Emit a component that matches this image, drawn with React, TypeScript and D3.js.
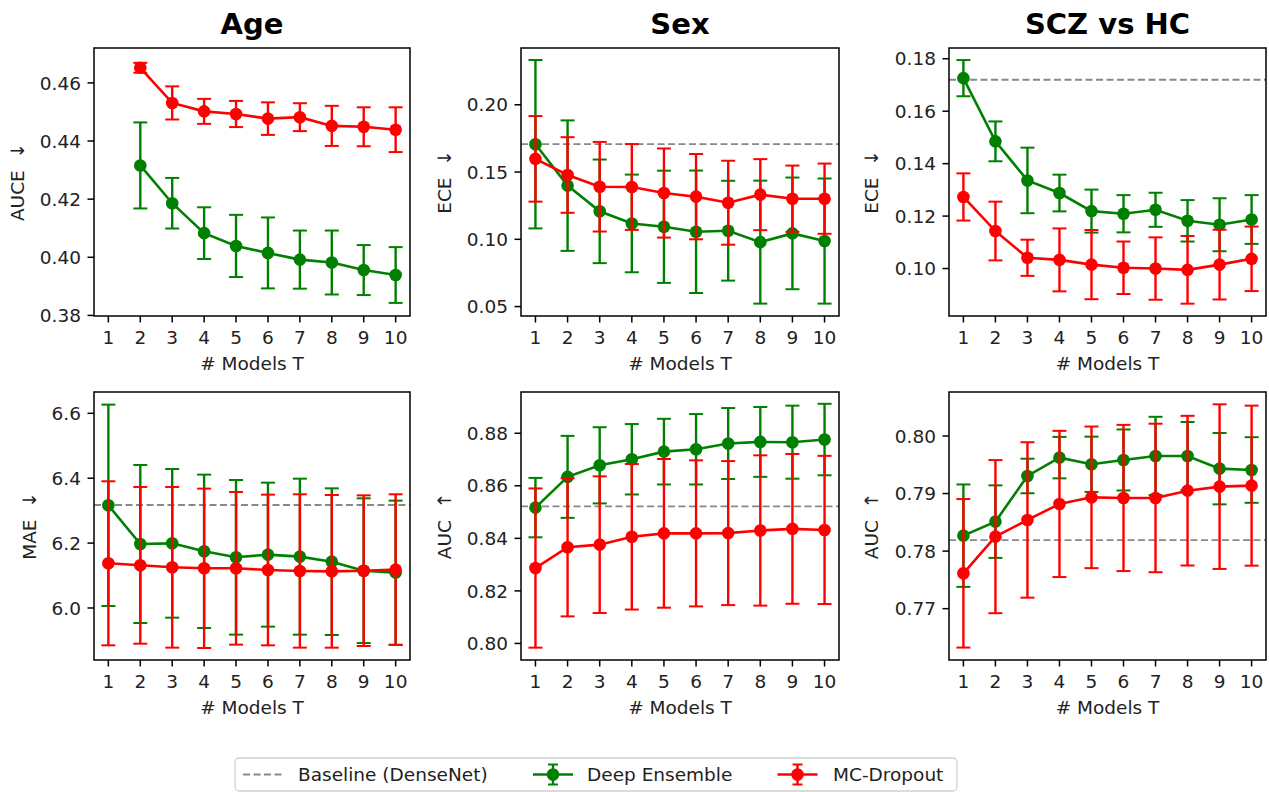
import * as d3 from "d3";

// number of models T
const models = [1, 2, 3, 4, 5, 6, 7, 8, 9, 10];
const xTicks = models;

// Age - AUCE (no T=1 value)
const ageAuceDE = [null, 0.4316, 0.4186, 0.4083, 0.4039, 0.4015, 0.3992, 0.3982, 0.3956, 0.3939];
const ageAuceDEStd = [null, 0.0148, 0.0087, 0.0089, 0.0107, 0.0122, 0.0100, 0.0110, 0.0086, 0.0096];
const ageAuceMC = [null, 0.4652, 0.4531, 0.4502, 0.4493, 0.4477, 0.4482, 0.4452, 0.4449, 0.4439];
const ageAuceMCStd = [null, 0.0017, 0.0057, 0.0043, 0.0045, 0.0056, 0.0048, 0.0069, 0.0067, 0.0077];

// Sex - ECE
const sexEceDE = [0.1707, 0.1399, 0.1208, 0.1118, 0.1093, 0.1056, 0.1064, 0.0979, 0.1044, 0.0987];
const sexEceDEStd = [0.0626, 0.0485, 0.0385, 0.0363, 0.0417, 0.0455, 0.0371, 0.0457, 0.0415, 0.0465];
const sexEceMC = [0.1598, 0.1478, 0.1391, 0.1389, 0.1344, 0.1317, 0.1272, 0.1332, 0.1302, 0.1302];
const sexEceMCStd = [0.0318, 0.0281, 0.0333, 0.0319, 0.0331, 0.0317, 0.0312, 0.0264, 0.0246, 0.0261];

// SCZ vs HC - ECE
const sczEceDE = [0.1726, 0.1485, 0.1336, 0.1288, 0.1219, 0.1209, 0.1224, 0.1182, 0.1167, 0.1187];
const sczEceDEStd = [0.0069, 0.0076, 0.0125, 0.007, 0.0082, 0.0071, 0.0065, 0.0079, 0.0101, 0.0093];
const sczEceMC = [0.1273, 0.1143, 0.1041, 0.1033, 0.1015, 0.1003, 0.1, 0.0995, 0.1015, 0.1037];
const sczEceMCStd = [0.009, 0.0112, 0.0069, 0.012, 0.0132, 0.01, 0.0119, 0.0129, 0.0133, 0.0123];

// Age - MAE
const ageMaeDE = [6.3165, 6.1973, 6.1993, 6.1747, 6.1562, 6.1644, 6.1582, 6.1428, 6.115, 6.1089];
const ageMaeDEStd = [0.3103, 0.2435, 0.2291, 0.2363, 0.2383, 0.2219, 0.2404, 0.226, 0.223, 0.222];
const ageMaeMC = [6.1377, 6.1315, 6.1254, 6.1223, 6.1223, 6.1171, 6.1141, 6.113, 6.115, 6.1182];
const ageMaeMCStd = [0.2528, 0.2415, 0.2476, 0.2456, 0.2353, 0.2322, 0.2363, 0.2353, 0.2322, 0.2322];

// Sex - AUC
const sexAucDE = [0.8517, 0.8634, 0.8678, 0.8701, 0.873, 0.8739, 0.8761, 0.8767, 0.8766, 0.8776];
const sexAucDEStd = [0.0113, 0.0156, 0.0145, 0.0134, 0.0125, 0.0134, 0.0135, 0.0133, 0.0139, 0.0136];
const sexAucMC = [0.8287, 0.8366, 0.8376, 0.8406, 0.8419, 0.8419, 0.842, 0.843, 0.8436, 0.8432];
const sexAucMCStd = [0.0303, 0.0263, 0.026, 0.0277, 0.0283, 0.0278, 0.0274, 0.0286, 0.0285, 0.0282];

// SCZ vs HC - AUC
const sczAucDE = [0.78268, 0.78512, 0.79305, 0.79624, 0.79508, 0.79583, 0.79653, 0.79653, 0.79432, 0.79409];
const sczAucDEStd = [0.0089, 0.0063, 0.003, 0.0036, 0.0048, 0.0053, 0.0068, 0.0059, 0.0062, 0.0057];
const sczAucMC = [0.77614, 0.78251, 0.78541, 0.78819, 0.78934, 0.78923, 0.78923, 0.7905, 0.7912, 0.79137];
const sczAucMCStd = [0.0129, 0.0133, 0.0135, 0.0127, 0.0123, 0.0127, 0.0129, 0.013, 0.0143, 0.0139];

// DenseNet baselines (null = not shown)
const baselines = [null, 0.1707, 0.172, 6.3175, 0.8522, 0.7819];

const titles = ["Age", "Sex", "SCZ vs HC"];
const yLabels = ["AUCE  \u2193", "ECE  \u2193", "ECE  \u2193", "MAE  \u2193", "AUC  \u2191", "AUC  \u2191"];
const yTicks = [
  [0.38, 0.4, 0.42, 0.44, 0.46],
  [0.05, 0.1, 0.15, 0.2],
  [0.1, 0.12, 0.14, 0.16, 0.18],
  [6.0, 6.2, 6.4, 6.6],
  [0.8, 0.82, 0.84, 0.86, 0.88],
  [0.77, 0.78, 0.79, 0.8],
];
const yDomains = [
  [0.3798, 0.472],
  [0.043, 0.2422],
  [0.0819, 0.1841],
  [5.8397, 6.6657],
  [0.7937, 0.8957],
  [0.76108, 0.80764],
];
const legendLabels = ["Baseline (DenseNet)", "Deep Ensemble", "MC-Dropout"];

const GREEN = "#008000";
const RED = "#ff0000";
const FONT = "DejaVu Sans, sans-serif";
const FS = 18.5;

const cols = [[94, 410], [521, 839], [949, 1266]];
const rows = [[48, 316], [392, 660]];
const yLabelX = [[17, 444, 871], [29, 444, 871]];

type Series = { mean: (number | null)[]; std: (number | null)[]; color: string };

function Panel({ idx, series }: { idx: number; series: Series[] }) {
  const r = Math.floor(idx / 3);
  const c = idx % 3;
  const [x0, x1] = cols[c];
  const [y0, y1] = rows[r];
  const x = d3.scaleLinear().domain([0.55, 10.45]).range([x0, x1]);
  const y = d3.scaleLinear().domain(yDomains[idx]).range([y1, y0]);
  const fmt = d3.format(idx === 3 ? ".1f" : ".2f");
  const base = baselines[idx];
  const line = d3
    .line<[number, number | null]>()
    .defined((d) => d[1] != null)
    .x((d) => x(d[0]))
    .y((d) => y(d[1] as number));

  return (
    <g>
      {r === 0 && (
        <text x={(x0 + x1) / 2} y={34} textAnchor="middle" fontSize={29} fontWeight="bold" fontFamily={FONT}>
          {titles[c]}
        </text>
      )}
      {base != null && (
        <line x1={x0} x2={x1} y1={y(base)} y2={y(base)} stroke="#888" strokeWidth={1.8} strokeDasharray="7,3.5" />
      )}
      {series.map((s, si) => {
        const pts = models.map((m, i) => [m, s.mean[i]] as [number, number | null]);
        return (
          <g key={si} stroke={s.color} fill={s.color}>
            <path d={line(pts) || ""} fill="none" strokeWidth={2.6} />
            {models.map((m, i) => {
              const v = s.mean[i];
              const e = s.std[i];
              if (v == null || e == null) return null;
              const cx = x(m);
              return (
                <g key={m}>
                  <circle cx={cx} cy={y(v)} r={6.3} stroke="none" />
                  <line x1={cx} x2={cx} y1={y(v - e)} y2={y(v + e)} strokeWidth={2.4} />
                  <line x1={cx - 7} x2={cx + 7} y1={y(v - e)} y2={y(v - e)} strokeWidth={2} />
                  <line x1={cx - 7} x2={cx + 7} y1={y(v + e)} y2={y(v + e)} strokeWidth={2} />
                </g>
              );
            })}
          </g>
        );
      })}
      <rect x={x0} y={y0} width={x1 - x0} height={y1 - y0} fill="none" stroke="#000" strokeWidth={1.5} />
      {xTicks.map((t) => (
        <g key={t}>
          <line x1={x(t)} x2={x(t)} y1={y1} y2={y1 + 6.5} stroke="#000" strokeWidth={1.5} />
          <text x={x(t)} y={y1 + 28} textAnchor="middle" fontSize={FS} fontFamily={FONT} fill="#222">
            {t}
          </text>
        </g>
      ))}
      {yTicks[idx].map((t) => (
        <g key={t}>
          <line x1={x0 - 6.5} x2={x0} y1={y(t)} y2={y(t)} stroke="#000" strokeWidth={1.5} />
          <text x={x0 - 13} y={y(t)} dy="0.36em" textAnchor="end" fontSize={FS} fontFamily={FONT} fill="#222">
            {fmt(t)}
          </text>
        </g>
      ))}
      <text x={(x0 + x1) / 2} y={y1 + 54} textAnchor="middle" fontSize={FS} fontFamily={FONT} fill="#222">
        # Models T
      </text>
      <text
        transform={`translate(${yLabelX[r][c]},${(y0 + y1) / 2}) rotate(-90)`}
        dy="0.36em"
        textAnchor="middle"
        fontSize={FS}
        fontFamily={FONT}
        fill="#222"
        style={{ whiteSpace: "pre" }}
      >
        {yLabels[idx]}
      </text>
    </g>
  );
}

function LegendMarker({ cx, cy, color }: { cx: number; cy: number; color: string }) {
  return (
    <g stroke={color} fill={color}>
      <line x1={cx - 20} x2={cx + 20} y1={cy} y2={cy} strokeWidth={2.6} />
      <line x1={cx} x2={cx} y1={cy - 10} y2={cy + 10} strokeWidth={2.4} />
      <line x1={cx - 5} x2={cx + 5} y1={cy - 10} y2={cy - 10} strokeWidth={2} />
      <line x1={cx - 5} x2={cx + 5} y1={cy + 10} y2={cy + 10} strokeWidth={2} />
      <circle cx={cx} cy={cy} r={6.3} stroke="none" />
    </g>
  );
}

export default function App() {
  const panels: Series[][] = [
    [
      { mean: ageAuceDE, std: ageAuceDEStd, color: GREEN },
      { mean: ageAuceMC, std: ageAuceMCStd, color: RED },
    ],
    [
      { mean: sexEceDE, std: sexEceDEStd, color: GREEN },
      { mean: sexEceMC, std: sexEceMCStd, color: RED },
    ],
    [
      { mean: sczEceDE, std: sczEceDEStd, color: GREEN },
      { mean: sczEceMC, std: sczEceMCStd, color: RED },
    ],
    [
      { mean: ageMaeDE, std: ageMaeDEStd, color: GREEN },
      { mean: ageMaeMC, std: ageMaeMCStd, color: RED },
    ],
    [
      { mean: sexAucDE, std: sexAucDEStd, color: GREEN },
      { mean: sexAucMC, std: sexAucMCStd, color: RED },
    ],
    [
      { mean: sczAucDE, std: sczAucDEStd, color: GREEN },
      { mean: sczAucMC, std: sczAucMCStd, color: RED },
    ],
  ];
  const ly = 774.5;
  return (
    <svg
      width={1269}
      height={792}
      style={{ position: "absolute", left: 0, top: 0, background: "#fff" }}
    >
      {panels.map((s, i) => (
        <Panel key={i} idx={i} series={s} />
      ))}
      <rect x={235} y={758} width={722} height={33} rx={4} fill="#fff" stroke="#d0d0d0" strokeWidth={1.3} />
      <line x1={243} x2={282} y1={ly} y2={ly} stroke="#888" strokeWidth={1.8} strokeDasharray="7,3.5" />
      <text x={298} y={ly} dy="0.36em" fontSize={FS} fontFamily={FONT} fill="#222">
        {legendLabels[0]}
      </text>
      <LegendMarker cx={553} cy={ly} color={GREEN} />
      <text x={587} y={ly} dy="0.36em" fontSize={FS} fontFamily={FONT} fill="#222">
        {legendLabels[1]}
      </text>
      <LegendMarker cx={797.5} cy={ly} color={RED} />
      <text x={833} y={ly} dy="0.36em" fontSize={FS} fontFamily={FONT} fill="#222">
        {legendLabels[2]}
      </text>
    </svg>
  );
}
